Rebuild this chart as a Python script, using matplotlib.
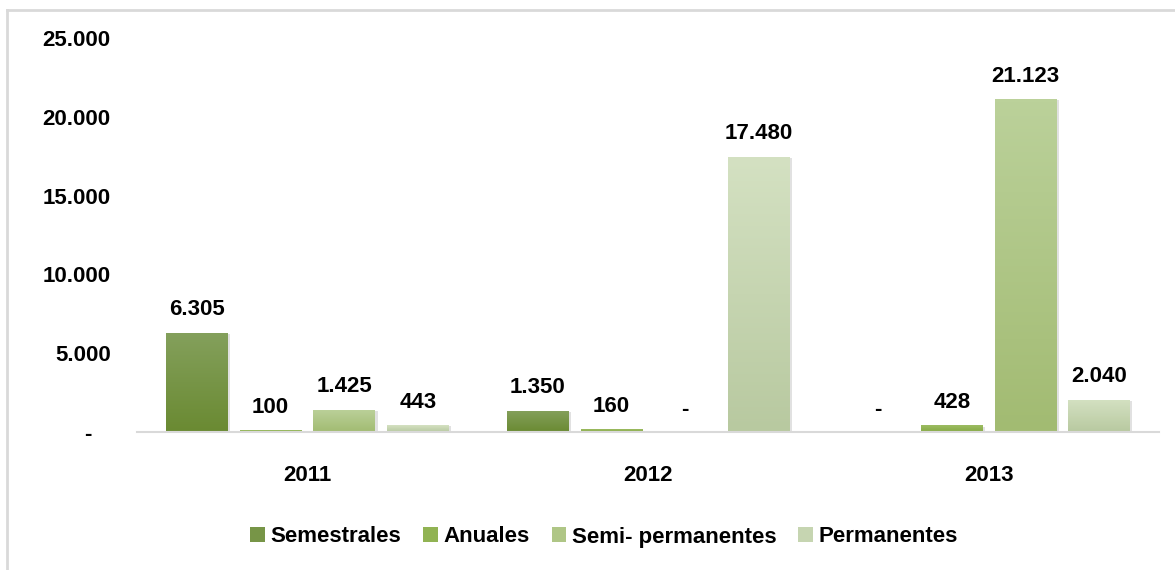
import matplotlib
matplotlib.use("Agg")
import matplotlib.pyplot as plt
import matplotlib.patheffects as pe
import numpy as np
from matplotlib.colors import LinearSegmentedColormap
from matplotlib.lines import Line2D
from matplotlib.patches import Patch

plt.rcParams['font.family'] = ['Liberation Sans', 'DejaVu Sans']
plt.rcParams['font.weight'] = 'bold'

# Datos
anios = ['2011', '2012', '2013']
series = ['Semestrales', 'Anuales', 'Semi- permanentes', 'Permanentes']
semestrales = [6305, 1350, 0]
anuales = [100, 160, 428]
semi_permanentes = [1425, 0, 21123]
permanentes = [443, 17480, 2040]
valores = [semestrales, anuales, semi_permanentes, permanentes]
y_ticks = [0, 5000, 10000, 15000, 20000, 25000]

# colores (abajo, arriba) del degradado de cada serie
colores = [('#6a8a32', '#84a05c'),
           ('#86aa44', '#9cbc62'),
           ('#a2bb72', '#bbd19a'),
           ('#b8c9a0', '#d4e1c2')]


def formato(v):
    if v == 0:
        return '-'
    return f'{v:,}'.replace(',', '.')


fig = plt.figure(figsize=(11.75, 5.70), dpi=100)
ax = fig.add_axes([137 / 1175, 138 / 570, 1022 / 1175, 394 / 570])

x = np.arange(len(anios))
ancho = 0.18
paso = 0.216
fs = 16

for i, (serie, vals) in enumerate(zip(series, valores)):
    pos = x + (i - 1.5) * paso
    abajo, arriba = colores[i]
    cmap = LinearSegmentedColormap.from_list(serie, [abajo, arriba])
    barras = ax.bar(pos, vals, ancho, color=arriba, zorder=2)
    for b, v in zip(barras, vals):
        if v > 0:
            b.set_path_effects([pe.SimplePatchShadow(offset=(2, -1), shadow_rgbFace='#888888', alpha=0.25),
                                pe.Normal()])
            grad = np.linspace(0, 1, 100).reshape(-1, 1)
            im = ax.imshow(grad, cmap=cmap, origin='lower', aspect='auto',
                           extent=[b.get_x(), b.get_x() + b.get_width(), 0, v], zorder=3)
            im.set_clip_path(b)
        ax.annotate(formato(v), (b.get_x() + b.get_width() / 2, v), xytext=(0, 16.5),
                    textcoords='offset points', ha='center', va='center',
                    fontsize=fs, fontweight='bold', color='black')

ax.set_xlim(-0.5, 2.5)
ax.set_ylim(0, 25000)
ax.set_yticks(y_ticks)
ax.set_yticklabels(['-   '] + [formato(t) for t in y_ticks[1:]])
ax.set_xticks(x)
ax.set_xticklabels(anios)
ax.tick_params(axis='y', length=0, pad=19, labelsize=fs)
ax.tick_params(axis='x', length=0, pad=24, labelsize=fs)
for lbl in ax.get_xticklabels() + ax.get_yticklabels():
    lbl.set_fontweight('bold')
for s in ['top', 'right', 'left']:
    ax.spines[s].set_visible(False)
ax.spines['bottom'].set_color('#d9d9d9')
ax.spines['bottom'].set_linewidth(1.5)
ax.spines['bottom'].set_zorder(4)

# cuadros de la leyenda con el tono medio de cada serie
handles = []
for s, (abajo, arriba) in zip(series, colores):
    medio = LinearSegmentedColormap.from_list(s, [abajo, arriba])(0.5)
    handles.append(Patch(facecolor=medio, edgecolor='none', label=s))
fig.legend(handles=handles, loc='center', bbox_to_anchor=(604 / 1175, 1 - 537 / 570), ncol=4,
           frameon=False, prop={'size': fs, 'weight': 'bold'}, handlelength=0.65,
           handleheight=0.65, handletextpad=0.25, columnspacing=1.0)

# marco del gráfico
fig.add_artist(Line2D([6.5 / 1175, 1], [1 - 9.5 / 570] * 2, color='#d9d9d9', lw=2))
fig.add_artist(Line2D([6.5 / 1175] * 2, [0, 1 - 9.5 / 570], color='#d9d9d9', lw=2))

fig.savefig('out.png', dpi=100)
